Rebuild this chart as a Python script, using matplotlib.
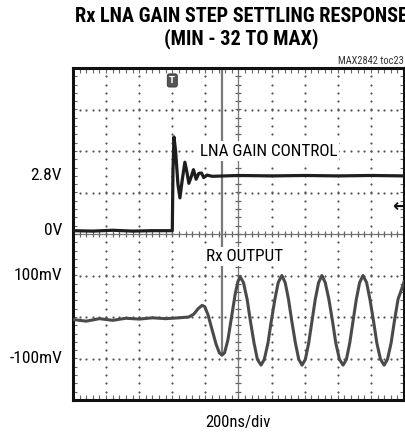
import numpy as np
import matplotlib
matplotlib.use("Agg")
import matplotlib.pyplot as plt
from matplotlib import font_manager

# scope trace values, in screen divisions (x: 0..10 div, y: -4..4 div)
ch1_t = [0.0, 0.6, 1.2, 1.8, 2.4, 3.0, 3.02, 3.05, 3.1, 3.17, 3.23, 3.3, 3.38, 3.44,
         3.5, 3.58, 3.64, 3.72, 3.8, 3.88, 3.95, 4.05, 4.2, 5.0, 6.0, 7.0, 8.0, 9.0, 10.0]
ch1_v = [0.08, 0.07, 0.09, 0.07, 0.08, 0.08, 1.5, 2.34, 2.0, 1.2, 0.87, 1.3, 1.73, 1.5,
         1.22, 1.4, 1.55, 1.32, 1.46, 1.47, 1.36, 1.42, 1.39, 1.41, 1.40, 1.41, 1.40, 1.41, 1.40]

ch2_t = [0.0, 0.4, 0.8, 1.2, 1.6, 2.0, 2.4, 2.8, 3.2, 3.5, 3.65, 3.78, 3.9, 3.98, 4.08,
         4.2, 4.32, 4.42, 4.5, 4.58, 4.68, 4.8, 4.9, 4.98,
         5.05, 5.15, 5.26, 5.36, 5.47, 5.57, 5.68, 5.78, 5.89, 5.99, 6.10, 6.20,
         6.31, 6.41, 6.51, 6.61, 6.72, 6.82, 6.92, 7.02, 7.12, 7.22, 7.32, 7.42,
         7.52, 7.62, 7.73, 7.84, 7.94, 8.05, 8.16, 8.26, 8.36, 8.46, 8.56, 8.66,
         8.76, 8.87, 8.97, 9.08, 9.18, 9.29, 9.40, 9.50, 9.61, 9.71, 9.82, 9.92, 10.0]
ch2_v = [-2.06, -2.10, -2.04, -2.08, -2.03, -2.05, -2.02, -2.04, -2.02, -2.0, -1.93, -1.8, -1.72, -1.75, -1.95,
         -2.3, -2.65, -2.86, -2.92, -2.86, -2.55, -1.95, -1.45, -1.15,
         -1.03, -1.17, -1.57, -2.10, -2.63, -3.02, -3.16, -3.02, -2.63, -2.10, -1.57, -1.17,
         -1.00, -1.17, -1.57, -2.10, -2.63, -3.02, -3.16, -3.02, -2.63, -2.10, -1.57, -1.17,
         -1.00, -1.17, -1.57, -2.10, -2.63, -3.02, -3.16, -3.02, -2.63, -2.10, -1.57, -1.17,
         -1.00, -1.17, -1.57, -2.10, -2.63, -3.02, -3.16, -3.02, -2.63, -2.10, -1.57, -1.35, -1.15]

y_labels = ["2.8V", "0V", "100mV", "-100mV"]
y_label_pos = [1.40, 0.08, -1.0, -3.0]

# look for a narrow face, else squeeze a normal one a bit
fonts = font_manager.fontManager.ttflist
names = {f.name for f in fonts}
stretch = "normal"
family = None
for cand in ["Liberation Sans Narrow", "Roboto Condensed", "Arial Narrow", "Open Sans Condensed"]:
    if cand in names:
        family = cand
        break
if family is None and any(f.name == "DejaVu Sans" and f.stretch in ("condensed", 500 - 125, "semi-condensed") for f in fonts):
    family, stretch = "DejaVu Sans", "condensed"
narrow_ok = family is not None
if family is None:
    family = "Roboto" if "Roboto" in names else "DejaVu Sans"
shrink = 1.0 if narrow_ok else 0.82
fkw = dict(family=[family, "DejaVu Sans"], fontstretch=stretch)

fig = plt.figure(figsize=(4.06, 4.37), dpi=100)
ax = fig.add_axes([73 / 406, 37 / 437, 331 / 406, 332 / 437])
ax.set_xlim(0, 10)
ax.set_ylim(-4, 4)
ax.set_xticks([])
ax.set_yticks([])
for s in ax.spines.values():
    s.set_linewidth(2.2)
    s.set_color("#111111")

# dotted graticule
minor_x = np.arange(0, 10.01, 0.2)
minor_y = np.arange(-4, 4.01, 0.2)
for gx in range(1, 10):
    if gx == 5:
        continue
    ax.scatter(np.full(len(minor_y), gx), minor_y, s=2.5, color="#555555", lw=0, zorder=1)
for gy in range(-3, 4):
    if gy == 0:
        continue
    ax.scatter(minor_x, np.full(len(minor_x), gy), s=2.5, color="#555555", lw=0, zorder=1)

# center axes with minor ticks
ax.axhline(0, color="#777777", lw=0.9, zorder=1)
ax.axvline(5, color="#777777", lw=0.9, zorder=1)
ax.scatter(minor_x, np.zeros(len(minor_x)), marker="|", s=22, color="#666666", lw=0.9, zorder=1)
ax.scatter(np.full(len(minor_y), 5), minor_y, marker="_", s=22, color="#666666", lw=0.9, zorder=1)
# ticks along frame
ax.scatter(minor_x, np.full(len(minor_x), 3.93), marker="|", s=6, color="#666666", lw=0.8, zorder=1)
ax.scatter(minor_x, np.full(len(minor_x), -3.93), marker="|", s=6, color="#666666", lw=0.8, zorder=1)
ax.scatter(np.full(len(minor_y), 0.07), minor_y, marker="_", s=6, color="#666666", lw=0.8, zorder=1)
ax.scatter(np.full(len(minor_y), 9.93), minor_y, marker="_", s=6, color="#666666", lw=0.8, zorder=1)

# cursor line
ax.plot([4.5, 4.5], [4, -2.9], color="#7a7a7a", lw=1.6, zorder=2)

# traces
ax.plot(ch1_t, ch1_v, color="#1e1e1e", lw=2.3, zorder=3)
ax.plot(ch2_t, ch2_v, color="#4a4a4a", lw=2.2, zorder=3)

# trigger marker and level arrow
ax.text(3.0, 3.7, "T", ha="center", va="center", fontsize=6, color="white", fontweight="bold",
        bbox=dict(boxstyle="round,pad=0.25", fc="#555555", ec="#333333", lw=0.6), zorder=5)
ax.text(9.87, 0.65, "\u2190", ha="center", va="center", fontsize=13, fontweight="bold", color="#111111", zorder=5)

ax.text(3.83, 2.0, "LNA GAIN CONTROL", fontsize=12.3 * shrink, va="center", ha="left",
        bbox=dict(fc="white", ec="none", pad=1.5), zorder=4, **fkw)
ax.text(4.03, -0.55, "Rx OUTPUT", fontsize=12.3 * shrink, va="center", ha="left",
        bbox=dict(fc="white", ec="none", pad=1.5), zorder=4, **fkw)

for lab, yp in zip(y_labels, y_label_pos):
    ax.text(-0.33, yp, lab, fontsize=12.5 * shrink, ha="right", va="center", **fkw)

fig.text(241 / 406, 1 - 17 / 437, "Rx LNA GAIN STEP SETTLING RESPONSE", fontsize=14.6 * shrink,
         fontweight="bold", ha="center", va="center", **fkw)
fig.text(241 / 406, 1 - 39 / 437, "(MIN - 32 TO MAX)", fontsize=14.6 * shrink,
         fontweight="bold", ha="center", va="center", **fkw)
fig.text(404 / 406, 1 - 61 / 437, "MAX2842 toc23", fontsize=7.5 * shrink, ha="right", va="center",
         color="#333333", **fkw)
fig.text(238 / 406, 1 - 423 / 437, "200ns/div", fontsize=12 * shrink, ha="center", va="center", **fkw)

fig.savefig("out.png", dpi=100)
